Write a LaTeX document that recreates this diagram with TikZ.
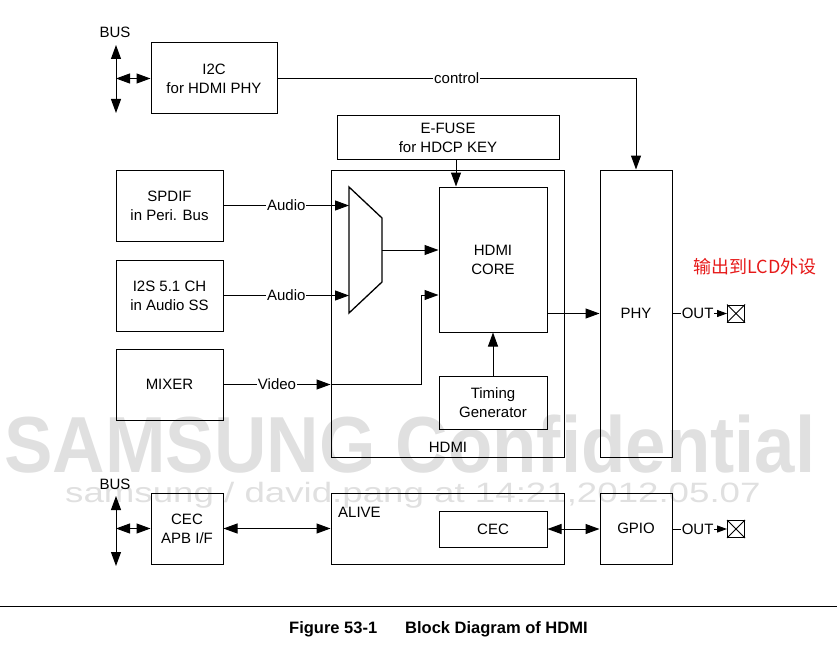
\documentclass[tikz,border=0pt]{standalone}
\usepackage{fontspec}
\setmainfont{Liberation Sans}
\newfontfamily\cjkfont{Noto Sans CJK SC}
\usetikzlibrary{arrows.meta}
\definecolor{wmgray}{RGB}{224,224,224}
\definecolor{notered}{RGB}{230,25,25}
\begin{document}
\begin{tikzpicture}[x=1pt,y=-1pt,
    every node/.style={font=\fontsize{15}{19}\selectfont},
    block/.style={draw, line width=1pt, align=center, inner sep=0pt},
    arr/.style={line width=1pt, -{Triangle[length=14pt,width=10pt]}},
    darr/.style={line width=1pt, {Triangle[length=14pt,width=10pt]}-{Triangle[length=14pt,width=10pt]}},
    sarr/.style={line width=1pt, -{Triangle[length=10pt,width=7pt]}},
    lbl/.style={fill=white, inner sep=1pt},
    xbox/.style={draw, line width=1pt, minimum size=17pt, inner sep=0pt},
    wmark/.style={text=wmgray, inner sep=0pt, anchor=base west}]
    \useasboundingbox (0,0) rectangle (837,650);

    % watermark
    \node[wmark, font=\fontsize{79.5}{80}\selectfont\bfseries] (wmbig) at (4,472)
        {\scalebox{0.914}[1]{SAMSUNG Confidential}};
    \node[wmark, font=\fontsize{28}{30}\selectfont] (wmsmall) at (65,502)
        {\scalebox{1.31}[1]{samsung / david.pang at 14:21,2012.05.07}};

    % blocks
    \node[block, minimum width=126pt, minimum height=71pt] (i2c) at (214,78.5) {I2C\\for HDMI PHY};
    \node[block, minimum width=222pt, minimum height=43pt] (efuse) at (448,137.5) {E-FUSE\\for HDCP KEY};
    \node[block, minimum width=233pt, minimum height=287pt] (hdmi) at (447.5,313.5) {};
    \node[block, minimum width=107pt, minimum height=71pt] (spdif) at (169.5,205.5) {SPDIF\\in Peri. Bus};
    \node[block, minimum width=107pt, minimum height=71pt] (i2s) at (169.5,295.5) {I2S 5.1 CH\\in Audio SS};
    \node[block, minimum width=107pt, minimum height=71pt] (mixer) at (169.5,384.5) {MIXER};
    \node[block, minimum width=108pt, minimum height=145pt] (core) at (493,259.5) {HDMI\\CORE};
    \node[block, minimum width=108pt, minimum height=53pt] (timing) at (493,402.5) {Timing\\Generator};
    \node[block, minimum width=72pt, minimum height=287pt] (phy) at (636,313.5) {PHY};
    \node[anchor=south, inner sep=0pt] (hdmilbl) at (448,453) {HDMI};

    \node[block, minimum width=72pt, minimum height=71pt] (cecapb) at (187,528.5) {CEC\\APB I/F};
    \node[block, minimum width=233pt, minimum height=71pt] (alive) at (447.5,528.5) {};
    \node[anchor=north west, inner sep=0pt] (alivelbl) at (338,507) {ALIVE};
    \node[block, minimum width=108pt, minimum height=36pt] (cec) at (493,529) {CEC};
    \node[block, minimum width=72pt, minimum height=71pt] (gpio) at (636,528.5) {GPIO};

    \node[xbox] (out1) at (736,313.5) {};
    \node[xbox] (out2) at (736,529) {};
    \draw[line width=0.8pt] (out1.north west) -- (out1.south east) (out1.north east) -- (out1.south west);
    \draw[line width=0.8pt] (out2.north west) -- (out2.south east) (out2.north east) -- (out2.south west);

    % mux
    \coordinate (m1) at (349,187);
    \coordinate (m2) at (382,218);
    \coordinate (m3) at (382,282);
    \coordinate (m4) at (349,313);
    \coordinate (mo) at (382,250);
    \draw[line width=1.3pt] (m1) -- (m2) -- (m3) -- (m4) -- cycle;

    % buses
    \node[anchor=south, inner sep=0pt] (bus1) at (115,38) {BUS};
    \coordinate (bus1t) at (116,45);
    \coordinate (bus1b) at (116,113);
    \draw[darr] (bus1t) -- (bus1b);
    \draw[darr] (i2c.west -| bus1t) -- (i2c.west);

    \node[anchor=south, inner sep=0pt] (bus2) at (115,490) {BUS};
    \coordinate (bus2t) at (116,496);
    \coordinate (bus2b) at (116,566);
    \draw[darr] (bus2t) -- (bus2b);
    \draw[darr] (cecapb.west -| bus2t) -- (cecapb.west);

    % connections
    \draw[arr] (i2c.east) -| (phy.north) node[lbl, pos=0.25] {control};
    \draw[arr] ([xshift=8pt]efuse.south) -- ([xshift=8pt]efuse.south |- core.north);
    \draw[arr] (spdif.east) -- (spdif.east -| m1) node[lbl, midway] {Audio};
    \draw[arr] (i2s.east) -- (i2s.east -| m1) node[lbl, midway] {Audio};
    \draw[arr] (mo) -- (mo -| core.west);
    \draw[arr] (mixer.east) -- (mixer.east -| hdmi.west) node[lbl, midway] {Video};
    \coordinate (vbend) at (421,295);
    \draw[arr] (mixer.east -| hdmi.west) -| (vbend) -- (vbend -| core.west);
    \draw[arr] (timing.north) -- (core.south);
    \draw[arr] (core.east |- phy.west) -- (phy.west);
    \draw[sarr] (phy.east |- out1) -- (out1.west) node[lbl, pos=0.46] {OUT};

    \draw[darr] (cecapb.east) -- (cecapb.east -| alive.west);
    \draw[darr] (cec.east) -- (cec.east -| gpio.west);
    \draw[sarr] (gpio.east |- out2) -- (out2.west) node[lbl, pos=0.46] {OUT};

    \node[text=notered, font=\cjkfont\fontsize{18}{20}\selectfont] (note) at (755,267) {输出到LCD外设};

    % caption
    \coordinate (rulel) at (0,606);
    \coordinate (ruler) at (837,606);
    \draw[line width=1pt] (rulel) -- (ruler);
    \node[anchor=base west, inner sep=0pt, font=\fontsize{16.5}{18}\selectfont\bfseries] (figno) at (289,633) {Figure 53-1};
    \node[anchor=base west, inner sep=0pt, font=\fontsize{16.5}{18}\selectfont\bfseries] (figtitle) at (405,633) {Block Diagram of HDMI};
\end{tikzpicture}
\end{document}
